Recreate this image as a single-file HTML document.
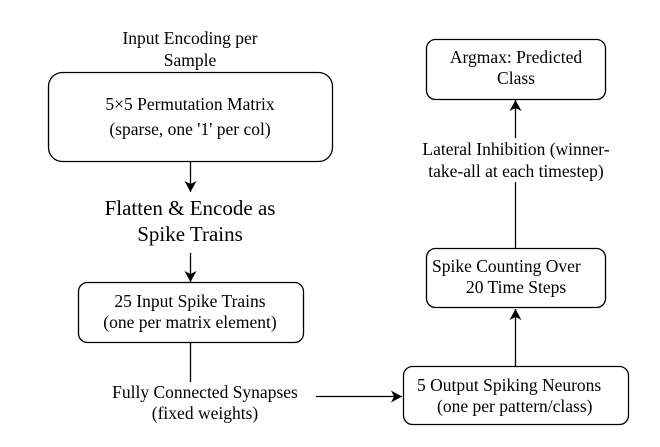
<!DOCTYPE html>
<html><head><meta charset="utf-8"><style>
body{margin:0;background:#fff}
svg text{font-family:"Liberation Serif",serif;fill:#000}
</style></head><body>
<svg width="660" height="442" viewBox="0 0 660 442">
<defs><marker id="ah" markerWidth="11" markerHeight="12" refX="11" refY="6" orient="auto" markerUnits="userSpaceOnUse"><path d="M0,0 L11,6 L0,12 L3,6 Z" fill="#000"/></marker></defs>
<g font-size="17.5" text-anchor="middle" stroke-width="1.3">
<text x="190" y="44">Input Encoding per</text>
<text x="190" y="66">Sample</text>
<rect x="48.5" y="72.5" width="284" height="89" rx="14" fill="#fff" stroke="#000" stroke-width="1.3"/>
<text x="190" y="110">5×5 Permutation Matrix</text>
<text x="190" y="135">(sparse, one '1' per col)</text>
<line x1="190.5" y1="162" x2="190.5" y2="192" stroke="#000" stroke-width="1.3" marker-end="url(#ah)"/>
<text x="190" y="215" font-size="21">Flatten &amp; Encode as</text>
<text x="190" y="241" font-size="21">Spike Trains</text>
<line x1="190.5" y1="253" x2="190.5" y2="282" stroke="#000" stroke-width="1.3" marker-end="url(#ah)"/>
<rect x="78.5" y="282.5" width="225" height="60" rx="9" fill="#fff" stroke="#000" stroke-width="1.3"/>
<text x="190" y="307">25 Input Spike Trains</text>
<text x="190" y="328">(one per matrix element)</text>
<line x1="190.5" y1="343" x2="190.5" y2="382" stroke="#000" stroke-width="1.3"/>
<text x="205" y="398">Fully Connected Synapses</text>
<text x="205" y="419">(fixed weights)</text>
<line x1="316" y1="396.5" x2="402" y2="396.5" stroke="#000" stroke-width="1.3" marker-end="url(#ah)"/>
<rect x="403.5" y="366.5" width="225" height="58" rx="9" fill="#fff" stroke="#000" stroke-width="1.3"/>
<text x="417" y="391" text-anchor="start">5 Output Spiking Neurons</text>
<text x="437" y="412" text-anchor="start">(one per pattern/class)</text>
<line x1="515.5" y1="366" x2="515.5" y2="309" stroke="#000" stroke-width="1.3" marker-end="url(#ah)"/>
<rect x="426.5" y="248.5" width="179" height="59" rx="9" fill="#fff" stroke="#000" stroke-width="1.3"/>
<text x="432" y="272" text-anchor="start">Spike Counting Over</text>
<text x="466" y="293" text-anchor="start">20 Time Steps</text>
<line x1="515.5" y1="248" x2="515.5" y2="182" stroke="#000" stroke-width="1.3"/>
<text x="516" y="155">Lateral Inhibition (winner-</text>
<text x="516" y="177">take-all at each timestep)</text>
<line x1="515.5" y1="138" x2="515.5" y2="100" stroke="#000" stroke-width="1.3" marker-end="url(#ah)"/>
<rect x="426.5" y="39.5" width="179" height="60" rx="9" fill="#fff" stroke="#000" stroke-width="1.3"/>
<text x="516" y="63">Argmax: Predicted</text>
<text x="516" y="84">Class</text>
</g>
</svg>
</body></html>
